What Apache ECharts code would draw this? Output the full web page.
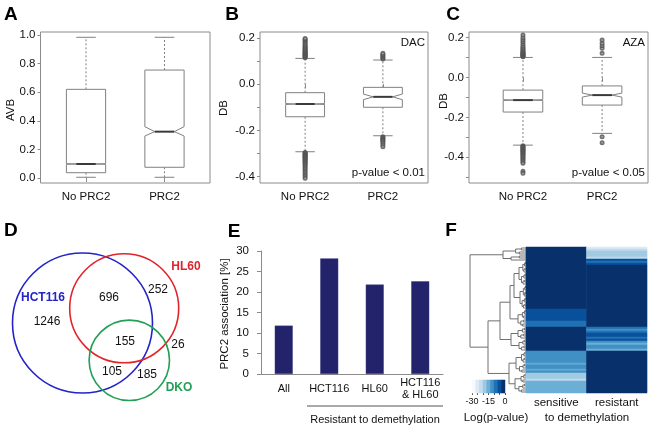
<!DOCTYPE html>
<html><head><meta charset="utf-8">
<script src="https://cdn.jsdelivr.net/npm/echarts@6/dist/echarts.min.js"></script>
<style>html,body{margin:0;padding:0;background:#fff}#c{width:651px;height:427px}</style>
</head><body><div id="c"></div>
<script>
// ---------------- DATA ----------------
const boxCategories = ['No PRC2', 'PRC2'];
// [lower whisker, Q1, notch low, median, notch high, Q3, upper whisker]
const avbStats = [[0.005, 0.037, 0.096, 0.098, 0.100, 0.62, 0.984], [0.005, 0.075, 0.294, 0.324, 0.359, 0.755, 0.984]];
const dacStats = [[-0.292, -0.141, -0.088, -0.086, -0.084, -0.037, 0.111], [-0.223, -0.100, -0.067, -0.055, -0.043, -0.014, 0.104]];
const dacOutNoPRC2 = [0.114, 0.117, 0.12, 0.123, 0.126, 0.129, 0.132, 0.135, 0.138, 0.141, 0.144, 0.148, 0.152, 0.156, 0.16, 0.165, 0.17, 0.176, 0.182, 0.188, 0.193, 0.197,
  -0.295, -0.298, -0.301, -0.304, -0.307, -0.31, -0.313, -0.316, -0.319, -0.322, -0.326, -0.33, -0.334, -0.338, -0.343, -0.348, -0.354, -0.36, -0.367, -0.374, -0.382, -0.39, -0.398, -0.407];
const dacOutPRC2 = [0.108, 0.113, 0.118, 0.123, 0.128, 0.133, -0.227, -0.231, -0.235, -0.239, -0.243, -0.248, -0.254, -0.262, -0.27];
const azaStats = [[-0.339, -0.173, -0.115, -0.113, -0.111, -0.063, 0.101], [-0.28, -0.138, -0.098, -0.088, -0.078, -0.042, 0.101]];
const azaOutNoPRC2 = [0.104, 0.107, 0.11, 0.113, 0.116, 0.119, 0.122, 0.126, 0.13, 0.135, 0.14, 0.146, 0.152, 0.16, 0.17, 0.18, 0.19, 0.2, 0.213,
  -0.342, -0.346, -0.35, -0.354, -0.358, -0.362, -0.366, -0.37, -0.375, -0.38, -0.385, -0.39, -0.396, -0.402, -0.408, -0.415, -0.422, -0.43, -0.47, -0.48];
const azaOutPRC2 = [0.122, 0.147, 0.16, 0.172, 0.188, -0.297, -0.327];

const vennSets = ['HCT116', 'HL60', 'DKO'];
const vennRegionCounts = [1246, 696, 252, 155, 26, 105, 185]; // HCT only, HCT&HL, HL only, all, HL&DKO, HCT&DKO, DKO only

const eCategories = ['All', 'HCT116', 'HL60', 'HCT116\n& HL60'];
const eValues = [11.8, 28.2, 21.8, 22.6];

const fColumns = ['sensitive', 'resistant'];
// log(p-value) per row (top to bottom)
const fSensitive = [0,0,0,0,0,0,0,0,0,0, 0,0,0,0,0,0,0,0,0,0, 0,0,0,0,0,0,0,0,0,0, 0,
  -3.75,-3.75,-3.75,-3.75,-3.75,-3.75, -7.5,-7.5,-7.5,
  0,0,0,0,0,0,0,0,0,0,0,0,
  -11,-11,-11,-11,-11,-11,-14,-11,-11,-14,-11,
  -19,-19,-19,-22,
  -15,-15,-15,-15,-15,-15];
const fResistant = [-26,-22,-19,-19,-19,-22,-3.75,-7.5,-3.75,0, 0,0,0,0,0,0,0,0,0,0, 0,0,0,0,0,0,0,0,0,0, 0,
  0,0,0,0,0,0, 0,0,0,
  -7.5,-11,-7.5,-3.75,-3.75,-7.5,-3.75,-11,-15,-11,-11,-15,
  0,0,0,0,0,0,0,0,0,0,0,
  0,0,0,0,
  0,0,0,0,0,0];
// dendrogram: [height, left, right]; ['g', firstRow, lastRow, height] = leaf cluster
const dendroTree = [56,
  ['g', 0, 6, 23],
  [38,
    [26,
      [16, [12, ['g', 7, 18, 7], ['g', 19, 30, 6]], ['g', 31, 39, 8]],
      [15, ['g', 40, 45, 8], ['g', 46, 51, 7]]
    ],
    [17, ['g', 52, 62, 10], ['g', 63, 72, 11]]
  ]
];
const colorbarValues = [-30, -26.25, -22.5, -18.75, -15, -11.25, -7.5, -3.75, 0];
const colorbarLabels = [-30, -15, 0];

// ---------------- LAYOUT / STYLE ----------------
const FONT = 'Liberation Sans, Arial, Helvetica, sans-serif';
const blues = ['#f7fbff', '#deebf7', '#c6dbef', '#9ecae1', '#6baed6', '#4292c6', '#2171b5', '#08519c', '#08306b'];
const frameColor = '#8c8c8c';
const boxStroke = '#808080';
const txt = '#111';

// Venn layout (units = px inside the Venn grid)
const vennCircles = [[82.5, 83, 70, '#2323c8'], [124.2, 68.3, 54.5, '#e0242a'], [129.3, 120.3, 40.2, '#22a055']];
const vennRegionPos = [[47, 82], [109, 58], [158, 50], [125, 102], [178, 105], [112, 132], [147, 135]];
const vennSetPos = [[43, 58, '#2323c8'], [186, 27, '#e0242a'], [179, 148, '#22a055']];

function boxData(stats) { return stats.map((s, i) => [i + 1].concat(s)); }
function outData(no, prc) { return no.map(v => [1, v]).concat(prc.map(v => [2, v])); }

function boxRender(params, api) {
  const x = api.value(0);
  const lo = api.value(1), q1 = api.value(2), nlo = api.value(3), med = api.value(4), nhi = api.value(5), q3 = api.value(6), hi = api.value(7);
  const hw = 0.25, sw = 0.125;
  const P = (dx, v) => api.coord([x + dx, v]);
  const ln = (a, b, style) => ({ type: 'line', shape: { x1: a[0], y1: a[1], x2: b[0], y2: b[1] }, style: style });
  const dash = { stroke: boxStroke, lineWidth: 1, lineDash: [2, 2] };
  const solid = { stroke: boxStroke, lineWidth: 1 };
  const pts = [P(-hw, q1), P(-hw, nlo), P(-hw / 2, med), P(-hw, nhi), P(-hw, q3), P(hw, q3), P(hw, nhi), P(hw / 2, med), P(hw, nlo), P(hw, q1)];
  return {
    type: 'group', children: [
      ln(P(0, q3), P(0, hi), dash),
      ln(P(0, q1), P(0, lo), dash),
      ln(P(-sw, hi), P(sw, hi), solid),
      ln(P(-sw, lo), P(sw, lo), solid),
      { type: 'polygon', shape: { points: pts }, style: { fill: '#fff', stroke: boxStroke, lineWidth: 1 } },
      ln(P(-hw / 2, med), P(hw / 2, med), { stroke: '#3a3a3a', lineWidth: 2 })
    ]
  };
}

function boxXAxis(gi, min) {
  return {
    type: 'value', gridIndex: gi, min: min, max: 2.58,
    axisLine: { show: false }, splitLine: { show: false },
    axisTick: { show: true, customValues: [1, 2], length: 4, lineStyle: { color: frameColor } },
    axisLabel: { customValues: [1, 2], formatter: v => boxCategories[Math.round(v) - 1], margin: 8, fontSize: 11.5, color: txt, fontFamily: FONT }
  };
}
function boxYAxis(gi, min, max, ticks, labels) {
  return {
    type: 'value', gridIndex: gi, min: min, max: max,
    axisLine: { show: false }, splitLine: { show: false },
    axisTick: { show: true, customValues: ticks, length: 3, lineStyle: { color: frameColor } },
    axisLabel: { customValues: labels, formatter: v => (Math.abs(v) < 1e-9 ? 0 : v).toFixed(1), margin: 5, fontSize: 11.5, color: txt, fontFamily: FONT }
  };
}

// dendrogram layout from tree
function expandGroup(a, b, h) {
  if (a === b) return a;
  const m = Math.floor((a + b) / 2);
  return [h, expandGroup(a, m, h * 0.45), expandGroup(m + 1, b, h * 0.65)];
}
function parseTree(n) {
  if (typeof n === 'number') return n;
  if (n[0] === 'g') return expandGroup(n[1], n[2], n[3]);
  return [n[0], parseTree(n[1]), parseTree(n[2])];
}
const dendroSegs = [];
function layoutTree(n) {
  if (typeof n === 'number') return { y: n, h: 0 };
  const L = layoutTree(n[1]), R = layoutTree(n[2]), h = n[0];
  dendroSegs.push([h, L.y, h, R.y], [h, L.y, L.h, L.y], [h, R.y, R.h, R.y]);
  return { y: (L.y + R.y) / 2, h: h };
}
layoutTree(parseTree(dendroTree));

const nRows = fSensitive.length;
const rowCats = fSensitive.map((_, i) => String(i));
const heatData = [];
fSensitive.forEach((v, i) => heatData.push([0, i, v]));
fResistant.forEach((v, i) => heatData.push([1, i, v]));
const cbData = colorbarValues.map((v, i) => [i, 0, v]);

const gridBase = { show: false, containLabel: false, outerBoundsMode: 'none' };
const boxGrid = (l, t, w, h) => Object.assign({}, gridBase, { left: l, top: t, width: w, height: h, show: true, borderColor: frameColor, borderWidth: 1, backgroundColor: 'transparent' });

function gtext(text, x, y, opts) {
  opts = opts || {};
  return {
    type: 'text', x: x, y: y, rotation: opts.rot || 0, silent: true,
    style: { text: text, x: 0, y: 0, fill: opts.color || txt, font: (opts.weight || 'normal') + ' ' + (opts.size || 11.5) + 'px ' + FONT, textAlign: opts.align || 'center', textVerticalAlign: 'middle' }
  };
}

const outStyle = { color: '#505050', borderWidth: 0.7 };

const option = {
  animation: false,
  textStyle: { fontFamily: FONT },
  grid: [
    boxGrid(40.5, 32, 169.5, 151),              // 0 A
    boxGrid(260, 32, 168, 151),                 // 1 B
    boxGrid(469, 32, 179, 151),                 // 2 C
    Object.assign({}, gridBase, { left: 0, top: 240, width: 220, height: 187 }), // 3 D
    Object.assign({}, gridBase, { left: 261, top: 251, width: 182, height: 123 }), // 4 E
    Object.assign({}, gridBase, { left: 470, top: 247, width: 56, height: 146 }),  // 5 dendro
    Object.assign({}, gridBase, { left: 526, top: 247, width: 121, height: 146 }), // 6 heat
    Object.assign({}, gridBase, { left: 472, top: 380, width: 33, height: 13 })    // 7 colorbar
  ],
  xAxis: [
    boxXAxis(0, 0.42), boxXAxis(1, 0.42), boxXAxis(2, 0.318),
    { type: 'value', gridIndex: 3, min: 0, max: 220, show: false },
    {
      type: 'category', gridIndex: 4, data: eCategories,
      axisLine: { lineStyle: { color: frameColor } },
      axisTick: { length: 4, lineStyle: { color: frameColor } },
      axisLabel: { interval: 0, fontSize: 11, color: txt, margin: 15, verticalAlign: 'middle', lineHeight: 12, fontFamily: FONT }
    },
    { type: 'value', gridIndex: 5, min: 0, max: 56, inverse: true, show: false },
    {
      type: 'category', gridIndex: 6, data: fColumns,
      axisLine: { show: false }, axisTick: { show: false }, splitLine: { show: false },
      axisLabel: { fontSize: 11.5, color: txt, margin: 10, verticalAlign: 'middle', fontFamily: FONT }
    },
    { type: 'category', gridIndex: 7, data: colorbarValues.map(String), show: false },
    {
      type: 'value', gridIndex: 7, min: -30, max: 0, interval: 5, position: 'bottom',
      axisLine: { show: false }, splitLine: { show: false },
      axisTick: { show: true, length: 2, lineStyle: { color: '#555' } },
      axisLabel: { customValues: colorbarLabels, fontSize: 9, color: txt, margin: 4, fontFamily: FONT }
    }
  ],
  yAxis: [
    boxYAxis(0, -0.035, 1.021, [0, 0.2, 0.4, 0.6, 0.8, 1.0], [0, 0.2, 0.4, 0.6, 0.8, 1.0]),
    boxYAxis(1, -0.427, 0.225, [-0.4, -0.3, -0.2, -0.1, 0, 0.1, 0.2], [-0.4, -0.2, 0, 0.2]),
    boxYAxis(2, -0.529, 0.2286, [-0.5, -0.4, -0.3, -0.2, -0.1, 0, 0.1, 0.2], [-0.4, -0.2, 0, 0.2]),
    { type: 'value', gridIndex: 3, min: 0, max: 187, inverse: true, show: false },
    {
      type: 'value', gridIndex: 4, min: 0, max: 30, interval: 5,
      axisLine: { show: true, lineStyle: { color: frameColor } },
      axisTick: { show: true, length: 4, lineStyle: { color: frameColor } },
      splitLine: { show: false },
      axisLabel: { fontSize: 11.5, color: txt, margin: 12, fontFamily: FONT }
    },
    { type: 'value', gridIndex: 5, min: -0.5, max: nRows - 0.5, inverse: true, show: false },
    { type: 'category', gridIndex: 6, data: rowCats, inverse: true, show: false },
    { type: 'category', gridIndex: 7, data: ['0'], show: false }
  ],
  visualMap: {
    type: 'continuous', min: -30, max: 0, show: false, seriesIndex: [9, 10],
    inRange: { color: blues }
  },
  series: [
    { type: 'custom', xAxisIndex: 0, yAxisIndex: 0, renderItem: boxRender, data: boxData(avbStats), z: 2 },
    { type: 'custom', xAxisIndex: 1, yAxisIndex: 1, renderItem: boxRender, data: boxData(dacStats), z: 2 },
    { type: 'scatter', xAxisIndex: 1, yAxisIndex: 1, data: outData(dacOutNoPRC2, dacOutPRC2), symbol: 'emptyCircle', symbolSize: 3, itemStyle: outStyle, z: 3 },
    { type: 'custom', xAxisIndex: 2, yAxisIndex: 2, renderItem: boxRender, data: boxData(azaStats), z: 2 },
    { type: 'scatter', xAxisIndex: 2, yAxisIndex: 2, data: outData(azaOutNoPRC2, azaOutPRC2), symbol: 'emptyCircle', symbolSize: 3, itemStyle: outStyle, z: 3 },
    {
      type: 'custom', xAxisIndex: 3, yAxisIndex: 3, data: vennCircles.map((c, i) => [c[0], c[1], c[2], i]),
      renderItem: (p, api) => {
        const c = api.coord([api.value(0), api.value(1)]);
        const r = api.size([api.value(2), 0])[0];
        return { type: 'circle', shape: { cx: c[0], cy: c[1], r: r }, style: { fill: 'none', stroke: vennCircles[api.value(3)][3], lineWidth: 1.6 } };
      }
    },
    {
      type: 'custom', xAxisIndex: 3, yAxisIndex: 3,
      data: vennRegionPos.map((p, i) => [p[0], p[1], i, 0]).concat(vennSetPos.map((p, i) => [p[0], p[1], i, 1])),
      renderItem: (p, api) => {
        const c = api.coord([api.value(0), api.value(1)]);
        const idx = api.value(2), isSet = api.value(3) === 1;
        return {
          type: 'text', x: c[0], y: c[1],
          style: {
            text: isSet ? vennSets[idx] : String(vennRegionCounts[idx]),
            fill: isSet ? vennSetPos[idx][2] : txt,
            font: (isSet ? 'bold ' : '') + '12px ' + FONT, textAlign: 'center', textVerticalAlign: 'middle'
          }
        };
      }
    },
    { type: 'bar', xAxisIndex: 4, yAxisIndex: 4, data: eValues, barWidth: 18, itemStyle: { color: '#23236b', borderColor: '#3c3c80', borderWidth: 0.5 } },
    {
      type: 'custom', xAxisIndex: 5, yAxisIndex: 5, data: dendroSegs,
      renderItem: (p, api) => {
        const a = api.coord([api.value(0), api.value(1)]);
        const b = api.coord([api.value(2), api.value(3)]);
        return { type: 'line', shape: { x1: a[0], y1: a[1], x2: b[0], y2: b[1] }, style: { stroke: '#707070', lineWidth: 1 } };
      }
    },
    { type: 'heatmap', xAxisIndex: 6, yAxisIndex: 6, data: heatData, itemStyle: { borderWidth: 0 }, emphasis: { disabled: true } },
    { type: 'heatmap', xAxisIndex: 7, yAxisIndex: 7, data: cbData, itemStyle: { borderWidth: 0 }, emphasis: { disabled: true } }
  ],
  graphic: [
    gtext('A', 10.8, 15, { weight: 'bold', size: 19, color: '#000' }),
    gtext('B', 232, 15, { weight: 'bold', size: 19, color: '#000' }),
    gtext('C', 453, 15, { weight: 'bold', size: 19, color: '#000' }),
    gtext('D', 10.8, 231, { weight: 'bold', size: 19, color: '#000' }),
    gtext('E', 234, 232, { weight: 'bold', size: 19, color: '#000' }),
    gtext('F', 451, 231, { weight: 'bold', size: 19, color: '#000' }),
    gtext('AVB', 10.5, 110, { rot: Math.PI / 2 }),
    gtext('DB', 223.5, 108, { rot: Math.PI / 2 }),
    gtext('DB', 443.5, 101, { rot: Math.PI / 2 }),
    gtext('DAC', 425, 43, { align: 'right' }),
    gtext('AZA', 645, 43, { align: 'right' }),
    gtext('p-value < 0.01', 425, 173, { align: 'right' }),
    gtext('p-value < 0.05', 645, 173, { align: 'right' }),
    gtext('PRC2 association [%]', 225, 314, { rot: Math.PI / 2 }),
    { type: 'line', silent: true, shape: { x1: 307, y1: 406, x2: 443, y2: 406 }, style: { stroke: '#555', lineWidth: 1.2 } },
    gtext('Resistant to demethylation', 375, 420, { size: 11 }),
    gtext('to demethylation', 587, 418),
    gtext('Log(p-value)', 496, 418)
  ]
};

const chart = echarts.init(document.getElementById('c'), null, { renderer: 'canvas' });
chart.setOption(option);
</script>
</body></html>
